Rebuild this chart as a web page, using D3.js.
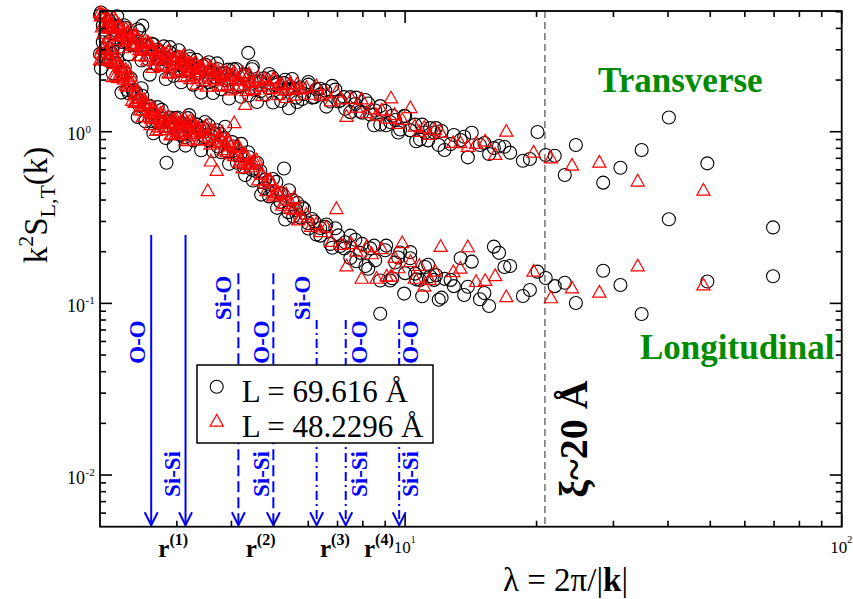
<!DOCTYPE html>
<html><head><meta charset="utf-8">
<script src="https://cdn.jsdelivr.net/npm/d3@7"></script>
<style>html,body{margin:0;padding:0;background:#fff;} svg{display:block;}</style>
</head><body>
<svg id="chart" width="853" height="599"></svg>
<script>
// ---------------- DATA ----------------
const seriesNames = ["L = 69.616 Å", "L = 48.2296 Å"];

// Series 1 (circles, L = 69.616 Å): wavelength, transverse and longitudinal values
const circLambda = [
 2.00,2.03,2.07,2.10,2.13,2.17,2.20,2.24,2.27,2.31,2.35,2.38,2.42,2.46,2.50,2.54,2.58,2.63,2.67,2.71,
 2.75,2.80,2.84,2.89,2.94,2.98,3.03,3.08,3.13,3.18,3.22,3.28,3.33,3.38,3.44,3.49,3.55,3.61,3.66,3.72,3.77,
 3.85,3.93,4.02,4.10,4.19,4.27,4.37,4.46,4.55,4.66,4.75,4.86,4.96,5.07,5.18,5.28,5.40,5.51,5.63,5.75,5.87,6.00,6.12,6.26,6.39,
 6.56,6.74,6.92,7.10,7.29,7.49,7.69,7.89,8.11,8.32,8.54,8.77,9.00,9.24,9.49,9.74,10.0,10.27,10.54,10.82,11.11,11.41,
 11.77,11.94,12.12,12.31,12.71,12.93,13.40,13.65,13.92,14.21,14.84,15.19,15.57,15.97,16.41,16.88,17.40,18.61,19.31,20.10,
 20.99,22.01,23.21,24.61,28.42,31.13,34.81,40.19,49.23,69.62,
 2.01,2.05,2.10,2.14,2.19,2.24,2.28,2.33,2.39,2.44,2.49,2.54,2.60,2.65,2.71,2.77,2.83,2.89,2.95,3.01,
 3.07,3.14,3.20,3.27,3.34,3.41,3.48,3.56,3.63,3.71,3.79,3.87,3.95,4.04,4.12,4.21,4.30,4.39,4.48,4.58,
 4.68,4.78,4.88,4.98,5.09,5.20,5.31,5.42,5.54,5.66,
 5.81,6.00,6.19,6.39,6.60,6.81,7.03,7.25,7.49,7.73,7.97,8.23,8.49,8.77,9.05,9.34,9.64,9.95,10.27,10.60,10.94,11.29,11.65];
const circTrans = [
 4.77,4.16,4.70,4.09,4.19,3.52,4.15,3.59,4.17,3.56,3.19,3.60,3.22,3.86,4.15,3.16,2.64,3.25,2.91,3.01,
 2.64,3.14,2.70,2.90,2.39,2.65,2.98,2.44,2.59,2.26,2.65,2.34,2.62,2.19,2.42,2.00,2.54,2.22,2.09,2.32,2.19,
 2.00,2.30,2.03,2.32,1.85,2.09,2.88,2.31,1.95,1.72,2.05,1.80,2.08,1.87,1.68,1.92,1.77,2.03,1.58,1.81,1.66,1.88,1.58,1.77,1.65,
 1.74,1.50,1.76,1.52,1.36,1.59,1.45,1.31,1.53,1.26,1.33,1.10,1.32,1.14,1.17,1.03,1.23,1.02,1.10,0.90,0.99,1.05,
 1.05,0.837,1.01,0.782,0.848,0.957,0.895,0.935,0.709,0.987,0.837,0.859,0.742,0.803,0.826,0.818,0.755,0.678,0.693,0.996,
 0.732,0.725,0.560,0.837,0.505,0.617,0.782,1.21,0.654,0.277,
 4.95,3.59,4.43,3.17,4.70,3.33,4.03,2.83,3.22,3.95,2.60,3.21,2.15,3.22,2.42,2.71,2.03,3.11,2.12,2.72,
 1.94,2.28,2.75,1.88,2.36,1.69,2.46,1.94,1.68,2.50,1.77,2.20,1.56,2.31,1.83,1.60,2.15,1.63,2.39,1.49,
 1.96,1.64,2.17,1.48,1.94,1.51,2.01,1.37,1.79,1.49,
 1.55,1.95,1.59,1.78,1.40,1.85,1.50,1.59,1.30,1.58,1.29,1.46,1.09,1.41,1.09,1.24,0.99,1.24,1.02,0.88,1.10,0.89,0.99];
const circLong = [
 2.84,3.32,2.86,2.57,2.87,2.52,2.93,2.19,2.21,1.75,2.05,1.72,1.70,1.42,1.62,1.35,1.42,1.15,1.25,1.39,
 1.13,1.19,0.66,1.21,1.07,1.20,1.01,1.12,0.93,1.20,1.05,0.99,1.10,1.04,1.05,0.93,1.09,0.94,0.97,0.82,0.97,
 0.92,0.76,0.87,0.73,0.74,0.62,0.76,0.60,0.59,0.59,0.47,0.51,0.45,0.51,0.39,0.61,0.34,0.40,0.35,0.316,0.355,0.293,0.31,0.252,0.275,
 0.279,0.222,0.274,0.216,0.227,0.184,0.235,0.197,0.165,0.209,0.178,0.087,0.204,0.136,0.173,0.198,0.150,0.183,0.149,0.137,0.163,0.144,
 0.146,0.105,0.108,0.139,0.137,0.126,0.183,0.112,0.125,0.175,0.1057,0.115,0.0965,0.214,0.197,0.163,0.165,0.1104,0.1197,0.153,
 0.1406,0.126,0.132,0.1005,0.155,0.128,0.0867,0.309,0.134,0.144,
 2.34,2.71,3.36,2.18,2.62,1.69,2.39,1.67,1.75,1.22,1.79,1.15,1.41,0.98,1.13,1.34,0.92,1.15,0.83,1.21,
 0.96,0.83,1.25,0.89,1.10,0.78,1.14,0.89,0.77,1.02,0.76,1.07,0.65,0.82,0.66,0.85,0.56,0.71,0.52,0.66,
 0.43,0.525,0.42,0.53,0.36,0.436,0.308,0.456,0.32,0.385,
 0.363,0.273,0.30,0.248,0.288,0.211,0.249,0.209,0.248,0.176,0.222,0.159,0.217,0.136,0.217,0.140,0.185,0.114,0.199,0.138,0.110,0.168,0.137];

// Series 2 (triangles, L = 48.2296 Å)
const triLambda = [
 2.01,2.04,2.08,2.11,2.14,2.18,2.21,2.25,2.29,2.32,2.36,2.40,2.44,2.48,2.52,2.56,2.60,2.64,2.69,2.73,
 2.78,2.82,2.87,2.91,2.96,3.01,3.06,3.11,3.16,3.21,3.26,3.31,3.36,3.42,3.47,3.53,3.59,3.64,3.70,3.76,3.82,
 3.89,3.96,4.06,4.14,4.21,4.30,4.39,4.48,4.57,4.68,4.78,4.88,4.99,5.09,5.21,5.31,5.43,5.54,5.66,5.78,
 5.94,6.09,6.26,6.42,6.60,6.77,6.96,7.14,7.34,7.53,7.73,7.95,8.16,8.38,8.60,8.84,9.07,
 9.282,9.459,9.646,9.845,10.28,10.52,10.78,11.06,11.37,11.70,12.06,12.89,13.38,13.92,14.54,15.25,16.08,17.05,
 19.69,21.57,24.11,27.85,34.10,48.23,
 2.02,2.06,2.11,2.15,2.20,2.25,2.29,2.35,2.40,2.45,2.50,2.55,2.61,2.67,2.72,2.78,2.84,2.90,2.96,3.03,
 3.09,3.16,3.22,3.29,3.36,3.43,3.51,3.58,3.66,3.74,3.81,3.90,3.98,4.06,4.15,4.24,4.33,4.42,4.51,4.61,
 4.71,4.81,4.91,5.02,5.12,5.23,5.34,5.46,5.57,5.69,
 2.00,2.04,2.09,2.13,2.17,2.22,2.27,2.32,2.37,2.42,2.47,2.53,2.58,2.64,2.69,2.75,2.81,2.87,2.93,2.99,
 3.06,3.12,3.19,3.26,3.33,
 2.03,2.07,2.12,2.16,2.21,2.26,2.31,2.36,2.41,2.46,2.51,2.57,2.62,2.68,2.74,2.79,2.85,2.91,2.98,3.04,
 3.11,3.17,3.24,3.31,3.38,3.45,3.53,3.60,3.68,3.76,3.84,3.92,4.00,4.09,4.17,4.26,4.35,4.45];
const triTrans = [
 4.69,4.25,4.56,4.10,4.11,3.72,4.04,3.71,3.95,3.46,3.55,3.23,3.45,3.24,2.96,3.33,2.99,3.06,2.83,3.05,
 2.83,2.64,2.93,2.75,2.60,2.72,2.46,2.76,2.48,2.50,2.37,2.53,2.22,2.40,2.46,2.22,2.28,2.12,2.32,2.16,2.22,
 2.18,2.00,2.22,2.02,2.11,1.43,2.16,1.92,1.98,1.83,2.03,1.89,2.02,1.79,1.89,1.74,1.88,1.76,1.89,1.77,
 1.80,1.64,1.84,1.62,1.67,1.50,1.69,1.54,1.22,1.55,1.38,1.54,1.28,1.35,1.24,1.33,1.19,
 1.56,1.25,1.11,1.17,1.37,1.07,0.996,1.05,0.957,1.02,0.987,0.859,0.856,0.814,0.848,0.875,0.732,1.00,
 0.755,0.698,0.634,0.660,0.512,0.453,
 4.05,4.77,3.97,4.59,3.41,3.90,3.34,3.93,3.25,2.75,3.32,2.73,3.22,2.44,2.73,2.46,2.84,2.18,2.61,2.20,
 2.69,2.25,2.02,2.46,2.06,2.29,1.83,2.37,1.99,2.12,1.84,2.22,1.74,2.12,1.85,2.20,1.72,1.94,1.75,2.06,
 1.61,1.97,1.77,2.02,1.63,1.86,1.57,1.90,1.62,1.76,
 4.90,3.71,4.35,3.69,4.44,3.62,3.06,3.78,3.17,3.63,2.76,2.97,3.28,2.35,2.71,2.41,2.82,2.18,2.59,2.27,
 2.69,2.08,2.25,2.44,1.88,
 4.77,4.00,4.22,3.60,4.20,3.57,3.74,3.16,3.57,2.98,3.07,2.59,2.96,2.64,2.93,2.39,2.63,2.20,2.57,2.29,
 2.58,2.10,2.34,2.12,2.36,1.97,2.23,2.03,2.25,1.83,2.09,1.87,2.12,1.78,1.98,1.84,2.08,1.77];
const triLong = [
 2.88,3.05,2.87,2.66,2.08,2.52,2.50,2.14,2.29,1.97,1.90,1.65,1.71,1.40,1.46,1.44,1.28,1.38,1.18,1.21,
 1.22,1.11,1.21,1.10,1.13,1.03,1.14,1.07,1.10,1.02,1.13,1.02,1.05,0.98,1.05,0.45,0.67,0.90,0.59,0.93,0.87,
 0.83,0.86,1.12,0.81,0.68,0.70,0.64,0.66,0.68,0.56,0.50,0.52,0.42,0.44,0.44,0.38,0.395,0.35,0.35,0.316,
 0.328,0.279,0.289,0.26,0.276,0.228,0.354,0.219,0.164,0.221,0.20,0.139,0.212,0.193,0.139,0.207,0.143,
 0.143,0.184,0.16,0.224,0.174,0.139,0.165,0.125,0.137,0.153,0.213,0.152,0.159,0.212,0.133,0.135,0.144,0.1085,
 0.153,0.107,0.122,0.1154,0.164,0.127,
 3.03,2.60,3.05,2.48,2.05,2.35,1.86,2.09,1.48,1.55,1.33,1.47,1.09,1.27,1.06,1.28,1.06,0.95,1.17,0.99,
 1.10,0.88,1.15,0.97,1.04,0.89,1.08,0.84,1.01,0.86,0.99,0.76,0.82,0.72,0.82,0.61,0.72,0.62,0.68,0.52,
 0.56,0.45,0.52,0.43,0.44,0.37,0.43,0.356,0.41,0.304,
 2.60,3.16,2.58,2.98,2.10,2.39,2.01,2.22,1.51,1.64,1.33,1.52,1.21,1.32,1.01,1.27,1.06,1.11,0.96,1.17,
 0.97,1.19,0.90,1.08,0.99,
 2.66,2.98,2.56,2.75,2.10,2.19,1.83,1.92,1.47,1.56,1.22,1.40,1.19,1.31,1.02,1.14,1.02,1.17,0.96,1.10,
 1.00,1.13,0.94,1.08,0.89,1.02,0.92,1.02,0.86,0.945,0.78,0.90,0.74,0.80,0.66,0.74,0.64,0.65];

// Partial-correlation peak positions (arrows)
const peakLambda = [2.62, 3.14, 4.15, 4.99, 6.27, 7.31, 9.69];
const peakTop    = [0.25, 0.25, 0.15, 0.15, 0.08, 0.08, 0.08];
const peakStyle  = ["solid","solid","dash","dash","dashdot","dashdot","dashdot"];
const peakLabels = [["O-O"],["Si-Si"],["Si-O"],["O-O","Si-Si"],["Si-O"],["O-O","Si-Si"],["O-O","Si-Si"]];
const shellLabels = ["(1)","(2)","(3)","(4)"];
const xiLambda = 20.9;

// ticks
const xMajor = [10, 100], xMajorExp = ["1","2"];
const xMinor = [3,4,5,6,7,8,9,20,30,40,50,60,70,80,90];
const yMajor = [0.01, 0.1, 1], yMajorExp = ["-2","-1","0"];
const yMinor = [0.006,0.007,0.008,0.009,0.02,0.03,0.04,0.05,0.06,0.07,0.08,0.09,0.2,0.3,0.4,0.5,0.6,0.7,0.8,0.9,2,3,4,5];

// ---------------- DRAW ----------------
const P = {left:100, right:841.7, top:11, bottom:526.7};
const x = d3.scaleLog().domain([2,100]).range([P.left,P.right]);
const y = d3.scaleLog().domain([0.005,5.05]).range([P.bottom,P.top]);
const svg = d3.select("#chart");
const serif = "'Liberation Serif','Times New Roman',Times,serif";
const BLUE = "#0000ff", GREEN = "#008b00";

// xi dashed line
svg.append("line").attr("x1",x(xiLambda)).attr("x2",x(xiLambda))
  .attr("y1",P.top).attr("y2",P.bottom)
  .attr("stroke","#7a7a7a").attr("stroke-width",1.6).attr("stroke-dasharray","7,4");

// data
function pts(lam, a, b){ const o=[]; lam.forEach((l,i)=>{o.push([l,a[i]]);o.push([l,b[i]]);}); return o; }
const circPts = pts(circLambda, circTrans, circLong);
const triPts  = pts(triLambda, triTrans, triLong);
const triPath = "M0,-7.3L6.6,4.4L-6.6,4.4Z";

svg.append("g").selectAll("circle").data(circPts).join("circle")
  .attr("cx",d=>x(d[0])).attr("cy",d=>y(d[1])).attr("r",6.5)
  .attr("fill","none").attr("stroke","#000").attr("stroke-width",1.1);
svg.append("g").selectAll("path").data(triPts).join("path")
  .attr("d",triPath).attr("transform",d=>`translate(${x(d[0])},${y(d[1])})`)
  .attr("fill","none").attr("stroke","#ff0000").attr("stroke-width",1.2);

// arrows
const dashMap = {solid:null, dash:"11,5", dashdot:"9,4,2,4"};
const ag = svg.append("g");
peakLambda.forEach((l,i)=>{
  const px = x(l), tip = P.bottom-1.5;
  ag.append("line").attr("x1",px).attr("x2",px).attr("y1",y(peakTop[i])).attr("y2",tip)
    .attr("stroke",BLUE).attr("stroke-width",2).attr("stroke-dasharray",dashMap[peakStyle[i]]);
  ag.append("path").attr("d",`M${px-6.5},${tip-13}L${px},${tip}L${px+6.5},${tip-13}`)
    .attr("fill","none").attr("stroke",BLUE).attr("stroke-width",2);
});
const labelDx = [-14,-14,-15,-12,-15,13,11];
const labelCy = {"O-O":342, "Si-Si":474, "Si-O":298};
peakLabels.forEach((labs,i)=>{
  labs.forEach(t=>{
    const cx = x(peakLambda[i]) + labelDx[i];
    ag.append("text").attr("transform",`translate(${cx+8},${labelCy[t]}) rotate(-90)`)
      .attr("text-anchor","middle").attr("font-family",serif).attr("font-weight","bold")
      .attr("font-size",23).attr("fill",BLUE).text(t);
  });
});

// shell labels r^(n)
const shellX = [158.3, 245.7, 320, 364];
shellLabels.forEach((s,i)=>{
  const t = svg.append("text").attr("x",shellX[i]).attr("y",556.7).attr("font-family",serif)
    .attr("font-weight","bold").attr("font-size",25).attr("fill","#000");
  t.append("tspan").text("r");
  t.append("tspan").attr("font-size",16).attr("dy",-12).text(s);
});

// texts
svg.append("text").attr("x",598).attr("y",91.7).attr("font-family",serif).attr("font-weight","bold")
  .attr("font-size",35).attr("fill",GREEN).text("Transverse");
svg.append("text").attr("x",640).attr("y",359).attr("font-family",serif).attr("font-weight","bold")
  .attr("font-size",35).attr("fill",GREEN).text("Longitudinal");
svg.append("text").attr("transform",`translate(587,439) rotate(-90)`).attr("text-anchor","middle")
  .attr("font-family",serif).attr("font-weight","bold").attr("font-size",40).attr("fill","#000").text("ξ~20 Å");

// legend
const lg = svg.append("g");
lg.append("rect").attr("x",197).attr("y",365).attr("width",236).attr("height",78)
  .attr("fill","#fff").attr("stroke","#000").attr("stroke-width",1.5);
lg.append("circle").attr("cx",216.7).attr("cy",386.7).attr("r",6.5).attr("fill","none").attr("stroke","#000").attr("stroke-width",1.1);
lg.append("path").attr("d",triPath).attr("transform","translate(216.7,421.7)").attr("fill","none").attr("stroke","#ff0000").attr("stroke-width",1.2);
lg.append("text").attr("x",241.7).attr("y",401.7).attr("font-family",serif).attr("font-size",31).text(seriesNames[0]);
lg.append("text").attr("x",241.7).attr("y",436.7).attr("font-family",serif).attr("font-size",31).text(seriesNames[1]);

// frame
const fg = svg.append("g").attr("stroke","#000").attr("stroke-width",1.6);
fg.append("rect").attr("x",P.left).attr("y",P.top).attr("width",P.right-P.left).attr("height",P.bottom-P.top).attr("fill","none").attr("stroke-width",1.8);
function xt(v,len){ const px=x(v);
  fg.append("line").attr("x1",px).attr("x2",px).attr("y1",P.bottom).attr("y2",P.bottom-len);
  fg.append("line").attr("x1",px).attr("x2",px).attr("y1",P.top).attr("y2",P.top+len); }
function yt(v,len){ const py=y(v);
  fg.append("line").attr("x1",P.left).attr("x2",P.left+len).attr("y1",py).attr("y2",py);
  fg.append("line").attr("x1",P.right).attr("x2",P.right-len).attr("y1",py).attr("y2",py); }
xMajor.forEach(v=>xt(v,12)); xMinor.forEach(v=>xt(v,6));
yMajor.forEach(v=>yt(v,12)); yMinor.forEach(v=>yt(v,6));

// tick labels
xMajor.forEach((v,i)=>{
  const px=x(v);
  svg.append("text").attr("x",px-3).attr("y",553).attr("text-anchor","middle").attr("font-family",serif).attr("font-size",17).text("10");
  svg.append("text").attr("x",px+5.5).attr("y",543).attr("font-family",serif).attr("font-size",10).text(xMajorExp[i]);
});
yMajor.forEach((v,i)=>{
  const py=y(v);
  svg.append("text").attr("x",85).attr("y",py+8.5).attr("text-anchor","end").attr("font-family",serif).attr("font-size",18).text("10");
  svg.append("text").attr("x",85.5).attr("y",py+1).attr("font-family",serif).attr("font-size",11).text(yMajorExp[i]);
});

// axis titles
const xtitle = svg.append("text").attr("x",503).attr("y",591).attr("font-family",serif).attr("font-size",33);
xtitle.append("tspan").text("λ = 2π/|");
xtitle.append("tspan").attr("font-weight","bold").text("k");
xtitle.append("tspan").text("|");

const ytitle = svg.append("text").attr("transform","translate(47,205) rotate(-90)").attr("text-anchor","middle")
  .attr("font-family",serif).attr("font-size",33);
ytitle.append("tspan").text("k");
ytitle.append("tspan").attr("font-size",22).attr("dy",-14).text("2");
ytitle.append("tspan").attr("font-size",33).attr("dy",14).text("S");
ytitle.append("tspan").attr("font-size",22).attr("dy",8).text("L,T");
ytitle.append("tspan").attr("font-size",33).attr("dy",-8).text("(k)");
</script>
</body></html>
